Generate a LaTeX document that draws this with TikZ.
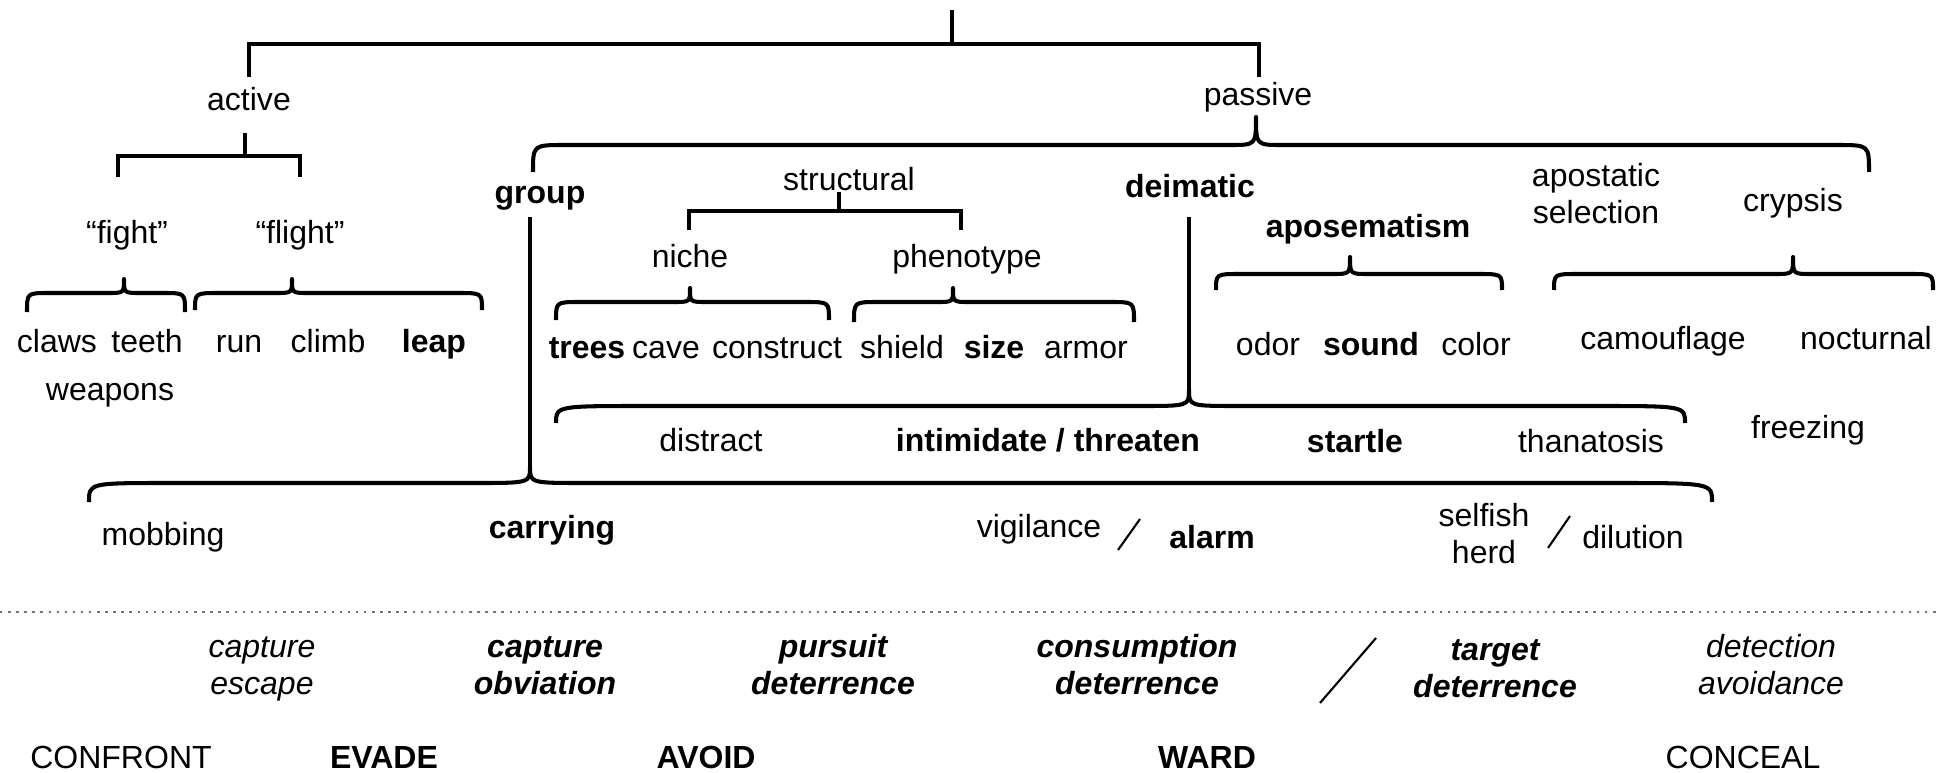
\documentclass[tikz,border=0pt]{standalone}
\usepackage{fontspec}
\setmainfont{Liberation Sans}
\usepackage{tikz}

\begin{document}
\begin{tikzpicture}[
  x=0.01cm,y=-0.01cm,
  font=\fontsize{9.1}{10.3}\selectfont,
  txt/.style={inner sep=0pt,anchor=base},
  key/.style={txt,font=\fontsize{9.1}{10.3}\selectfont\bfseries},
  aim/.style={txt,align=center,font=\fontsize{9.1}{10.3}\selectfont\itshape},
  aimkey/.style={txt,align=center,font=\fontsize{9.1}{10.3}\selectfont\bfseries\itshape},
  brk/.style={draw=black,line width=1.15pt,line join=round},
  sqr/.style={draw=black,line width=1.15pt,line join=miter},
  slash/.style={draw=black,line width=0.6pt},
  sep/.style={draw=black!55,line width=0.7pt,dash pattern=on 0.7pt off 1.6pt},
]
\useasboundingbox (0,0) rectangle (1952,773);

% first split
\draw[sqr] (952,10) -- (952,44);
\draw[sqr] (249,77) -- (249,44) -- (1259,44) -- (1259,77);
\node[txt] (act) at (249,111) {active};
\node[txt] (pas) at (1258,106) {passive};

% active side
\draw[sqr] (245,133) -- (245,156);
\draw[sqr] (118,177) -- (118,156) -- (300,156) -- (300,177);
\node[txt] (fight) at (127,243) {“fight”};
\node[txt] (flight) at (300,243) {“flight”};
\draw[brk] (27,312) .. controls (27,293) .. (49,293) -- (108,293) .. controls (124,293) .. (124,279) .. controls (124,293) .. (140,293) -- (163,293) .. controls (185,293) .. (185,312);
\draw[brk] (195,310) .. controls (195,293) .. (219,293) -- (276,293) .. controls (292,293) .. (292,279) .. controls (292,293) .. (308,293) -- (458,293) .. controls (482,293) .. (482,310);
\node[txt] (claws) at (57,352) {claws};
\node[txt] (teeth) at (147,352) {teeth};
\node[txt] (weap) at (110,400) {weapons};
\node[txt] (run) at (239,352) {run};
\node[txt] (climb) at (328,352) {climb};
\node[key] (leap) at (434,352) {leap};

% passive side
\draw[brk] (533,172) .. controls (533,145) .. (565,145) -- (1230,145) .. controls (1256,145) .. (1256,117) .. controls (1256,145) .. (1282,145) -- (1837,145) .. controls (1869,145) .. (1869,172);
\node[key] (grp) at (540,203) {group};
\node[txt] (struc) at (849,190) {structural};
\draw[sqr] (839,192) -- (839,211);
\draw[sqr] (689,230) -- (689,211) -- (961,211) -- (961,230);
\node[txt] (niche) at (690,268) {niche};
\node[txt] (pheno) at (967,268) {phenotype};
\draw[brk] (556,320) .. controls (556,302) .. (580,302) -- (674,302) .. controls (690,302) .. (690,288) .. controls (690,302) .. (706,302) -- (805,302) .. controls (829,302) .. (829,320);
\draw[brk] (854,322) .. controls (854,302) .. (878,302) -- (937,302) .. controls (953,302) .. (953,288) .. controls (953,302) .. (969,302) -- (1110,302) .. controls (1134,302) .. (1134,322);
\node[key] (trees) at (587,358) {trees};
\node[txt] (cave) at (666,358) {cave};
\node[txt] (constr) at (777,358) {construct};
\node[txt] (shield) at (902,358) {shield};
\node[key] (size) at (994,358) {size};
\node[txt] (armor) at (1086,358) {armor};

\node[key] (deim) at (1190,197) {deimatic};
\node[key] (apos) at (1368,237) {aposematism};
\draw[brk] (1216,290) .. controls (1216,274) .. (1240,274) -- (1332,274) .. controls (1350,274) .. (1350,257) .. controls (1350,274) .. (1368,274) -- (1478,274) .. controls (1502,274) .. (1502,290);
\node[txt] (odor) at (1268,355) {odor};
\node[key] (sound) at (1371,355) {sound};
\node[txt] (color) at (1476,355) {color};
\node[txt,align=center] (apost) at (1596,223) {apostatic\\selection};
\node[txt] (cryp) at (1793,212) {crypsis};
\draw[brk] (1554,290) .. controls (1554,274) .. (1578,274) -- (1775,274) .. controls (1793,274) .. (1793,257) .. controls (1793,274) .. (1811,274) -- (1909,274) .. controls (1933,274) .. (1933,290);
\node[txt] (camo) at (1663,349) {camouflage};
\node[txt] (noct) at (1866,349) {nocturnal};

% deimatic
\coordinate (deimtip) at (1189,390);
\draw[brk] (1189,217) -- (deimtip);
\draw[brk] (556,423) .. controls (556,406) .. (646,406) -- (1139,406) .. controls (1189,406) .. (deimtip) .. controls (1189,406) .. (1239,406) -- (1595,406) .. controls (1685,406) .. (1685,423);
\node[txt] (distr) at (711,451) {distract};
\node[key] (intim) at (1048,451) {intimidate / threaten};
\node[key] (startle) at (1355,452) {startle};
\node[txt] (thana) at (1591,452) {thanatosis};
\node[txt] (freez) at (1808,438) {freezing};

% group
\coordinate (grptip) at (530,467);
\draw[brk] (530,217) -- (grptip);
\draw[brk] (89,502) .. controls (89,483) .. (169,483) -- (475,483) .. controls (530,483) .. (grptip) .. controls (530,483) .. (585,483) -- (1612,483) .. controls (1712,483) .. (1712,502);
\node[txt] (mob) at (163,545) {mobbing};
\node[key] (carry) at (552,538) {carrying};
\node[txt] (vigil) at (1039,537) {vigilance};
\draw[slash] (1140,519) -- (1118,550);
\node[key] (alarm) at (1212,548) {alarm};
\node[txt,align=center] (selfish) at (1484,563) {selfish\\herd};
\draw[slash] (1570,516) -- (1548,548);
\node[txt] (dilut) at (1633,548) {dilution};

% functions
\draw[sep] (0,612) -- (1940,612);
\node[aim] (escape) at (262,694) {capture\\escape};
\node[aimkey] (obviate) at (545,694) {capture\\obviation};
\node[aimkey] (pursuit) at (833,694) {pursuit\\deterrence};
\node[aimkey] (consume) at (1137,694) {consumption\\deterrence};
\draw[slash] (1376,638) -- (1320,703);
\node[aimkey] (target) at (1495,697) {target\\deterrence};
\node[aim] (detect) at (1771,694) {detection\\avoidance};

\node[txt] (confront) at (121,768) {CONFRONT};
\node[key] (evade) at (384,768) {EVADE};
\node[key] (avoid) at (706,768) {AVOID};
\node[key] (ward) at (1207,768) {WARD};
\node[txt] (conceal) at (1743,768) {CONCEAL};
\end{tikzpicture}
\end{document}
